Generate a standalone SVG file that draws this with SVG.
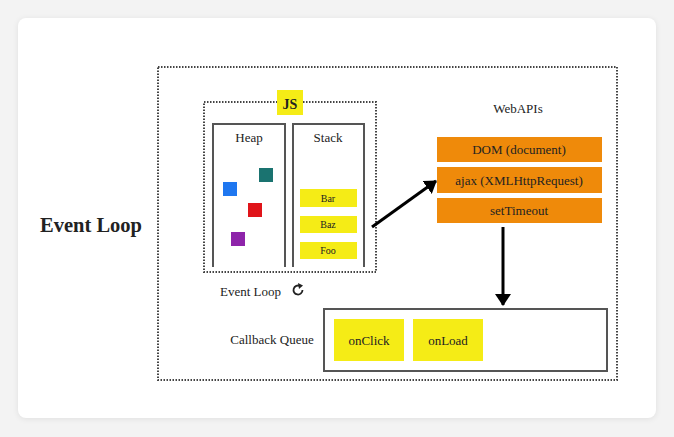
<svg xmlns="http://www.w3.org/2000/svg" width="674" height="437" viewBox="0 0 674 437">
<defs>
<style>
text{font-family:"Liberation Serif","Times New Roman",serif;fill:#222}
.dot{fill:none;stroke:#444;stroke-width:2;stroke-dasharray:1.5 1.5}
.panel{fill:none;stroke:#555;stroke-width:2}
.yel{fill:#f5ec16}
.org{fill:#ef8a0a}
.conn{stroke:#000;stroke-width:3;fill:none}
</style>
<marker id="ah" viewBox="0 0 12 16" refX="11" refY="8" markerUnits="userSpaceOnUse" markerWidth="12" markerHeight="16" orient="auto">
<path d="M0,0 L12,8 L0,16 z" fill="#000"/>
</marker>
<filter id="sh" x="-5%" y="-5%" width="110%" height="110%">
<feGaussianBlur stdDeviation="3"/>
</filter>
</defs>
<rect width="674" height="437" fill="#f3f3f3"/>
<rect x="18" y="19" width="638" height="400" rx="8" fill="#000" opacity="0.08" filter="url(#sh)"/>
<rect x="18" y="18" width="638" height="400" rx="8" fill="#fff"/>
<text x="91" y="232" font-size="21" font-weight="bold" text-anchor="middle" fill="#111" textLength="102" lengthAdjust="spacingAndGlyphs">Event Loop</text>
<rect class="dot" x="158" y="67" width="459" height="313"/>
<g id="js">
<rect class="dot" x="204" y="102" width="172" height="170"/>
<rect class="yel" x="277" y="90" width="26" height="25"/>
<text x="290" y="109" font-size="14" font-weight="bold" text-anchor="middle">JS</text>
</g>
<g id="heap">
<path class="panel" d="M213,267 V124 H285 V267"/>
<text x="249" y="142" font-size="13" text-anchor="middle">Heap</text>
<rect x="259" y="168" width="14" height="14" fill="#1a7370"/>
<rect x="223" y="182" width="14" height="14" fill="#1f77f0"/>
<rect x="248" y="203" width="14" height="14" fill="#e0141a"/>
<rect x="231" y="232" width="14" height="14" fill="#8e24aa"/>
</g>
<g id="stack">
<path class="panel" d="M293,267 V124 H364 V267"/>
<text x="328" y="142" font-size="13" text-anchor="middle">Stack</text>
<rect class="yel" x="300" y="189" width="57" height="18"/>
<text x="328" y="202" font-size="10" text-anchor="middle">Bar</text>
<rect class="yel" x="300" y="216" width="57" height="17"/>
<text x="328" y="228" font-size="10" text-anchor="middle">Baz</text>
<rect class="yel" x="300" y="242" width="57" height="17"/>
<text x="328" y="254" font-size="10" text-anchor="middle">Foo</text>
</g>
<g id="eventloop">
<text x="220" y="296" font-size="13">Event Loop</text>
<path d="M302.5,290 A4.5,4.5 0 1 1 300,286" fill="none" stroke="#222" stroke-width="1.8"/>
<path d="M298,283 L303,285.5 L299,289 z" fill="#222"/>
</g>
<g id="webapis">
<text x="518" y="113" font-size="13" text-anchor="middle">WebAPIs</text>
<rect class="org" x="437" y="137" width="165" height="25"/>
<text x="519" y="154" font-size="13" text-anchor="middle">DOM (document)</text>
<rect class="org" x="437" y="167" width="165" height="26"/>
<text x="519" y="185" font-size="13" text-anchor="middle">ajax (XMLHttpRequest)</text>
<rect class="org" x="437" y="198" width="165" height="25"/>
<text x="519" y="215" font-size="13" text-anchor="middle">setTimeout</text>
</g>
<g id="callbackqueue">
<text x="272" y="344" font-size="13" text-anchor="middle">Callback Queue</text>
<rect x="324" y="309" width="283" height="62" fill="#fff" stroke="#555" stroke-width="2"/>
<rect class="yel" x="334" y="319" width="70" height="42"/>
<text x="369" y="345" font-size="13" text-anchor="middle">onClick</text>
<rect class="yel" x="413" y="319" width="70" height="42"/>
<text x="448" y="345" font-size="13" text-anchor="middle">onLoad</text>
</g>
<g id="connectors">
<line class="conn" x1="372" y1="227" x2="436" y2="181" marker-end="url(#ah)"/>
<line class="conn" x1="503" y1="227" x2="503" y2="305" marker-end="url(#ah)"/>
</g>
</svg>
